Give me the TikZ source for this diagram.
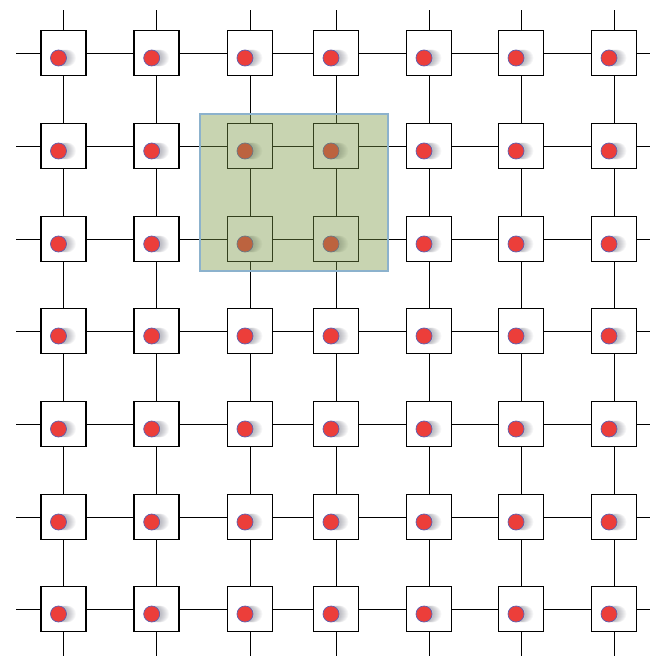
\documentclass[tikz,border=0pt]{standalone}
\usetikzlibrary{positioning}
\definecolor{dotred}{RGB}{236,62,58}
\definecolor{dotrim}{RGB}{95,95,175}
\definecolor{dotshade}{RGB}{60,60,80}
\definecolor{patchgreen}{RGB}{123,152,70}
\definecolor{patchrim}{RGB}{140,178,205}
\tikzset{
  tile/.style={draw, line width=1.4pt, fill=white, minimum size=1.35cm, inner sep=0pt},
  wire/.style={line width=0.8pt},
}
\begin{document}
\begin{tikzpicture}[x=0.03cm, y=-0.03cm]
    \useasboundingbox (0,0) rectangle (650,656);
    % tiles with their dots
    \foreach \c/\x in {1/63.5,2/156.7,3/250,4/336,5/429,6/521,7/614} {
      \coordinate (n-\c) at (\x,10);
      \coordinate (s-\c) at (\x,656);
      \foreach \r/\y in {1/53,2/146,3/239,4/331,5/424,6/517,7/609} {
        \node[tile] (b-\r-\c) at (\x,\y) {};
        \foreach \s in {1,...,8}
          \fill[dotshade, opacity=0.045] (\x-4+\s,\y+5) circle (0.25cm);
        \filldraw[fill=dotred, draw=dotrim, line width=0.6pt] (\x-5,\y+5) circle (0.24cm);
      }
    }
    \foreach \r/\y in {1/53,2/146,3/239,4/331,5/424,6/517,7/609} {
      \coordinate (w-\r) at (16,\y);
      \coordinate (e-\r) at (650,\y);
    }
    % wires between tiles
    \foreach \i [evaluate=\i as \j using int(\i+1)] in {1,...,6}
      \foreach \k in {1,...,7} {
        \draw[wire] (b-\k-\i) -- (b-\k-\j);
        \draw[wire] (b-\i-\k) -- (b-\j-\k);
      }
    % stubs at the border
    \foreach \k in {1,...,7} {
      \draw[wire] (b-1-\k) -- (n-\k);
      \draw[wire] (b-7-\k) -- (s-\k);
      \draw[wire] (b-\k-1) -- (w-\k);
      \draw[wire] (b-\k-7) -- (e-\k);
    }
    % highlighted block
    \fill[patchgreen, opacity=0.42] (200,114) rectangle (388,271);
    \draw[patchrim, line width=1.2pt] (200,114) rectangle (388,271);
\end{tikzpicture}
\end{document}
